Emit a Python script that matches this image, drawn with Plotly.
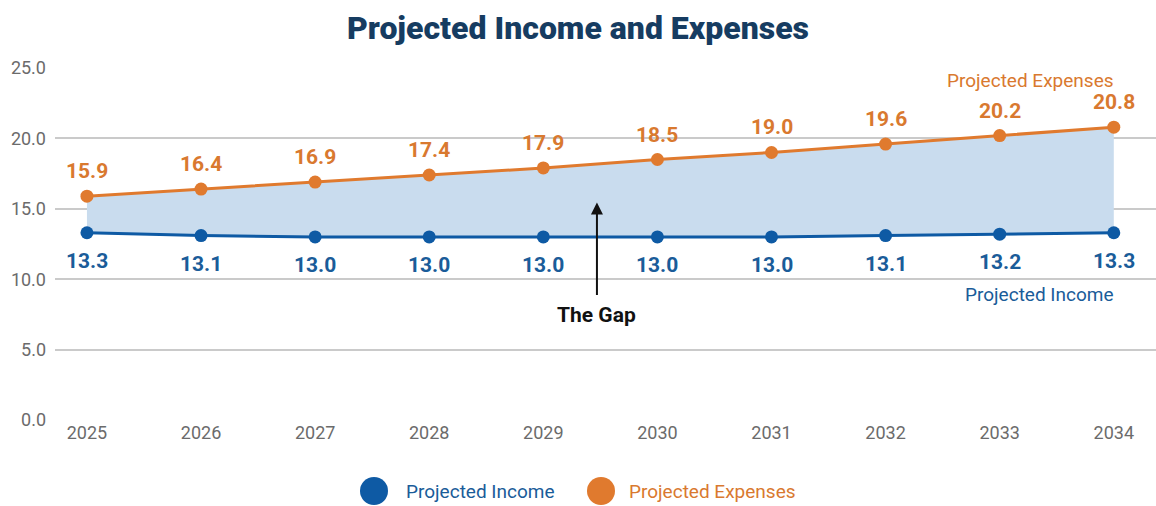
import plotly.graph_objects as go

years = [2025, 2026, 2027, 2028, 2029, 2030, 2031, 2032, 2033, 2034]
income = [13.3, 13.1, 13.0, 13.0, 13.0, 13.0, 13.0, 13.1, 13.2, 13.3]
expenses = [15.9, 16.4, 16.9, 17.4, 17.9, 18.5, 19.0, 19.6, 20.2, 20.8]
y_ticks = [0, 5, 10, 15, 20, 25]

BLUE = "#0e5aa4"
BLUE_TXT = "#1a5c99"
ORANGE = "#e07a2e"
ORANGE_TXT = "#d9792f"
FILL = "#c9dcee"
NAVY = "#163c61"
FONT = "Roboto"

fig = go.Figure()

fig.add_trace(go.Scatter(
    x=years, y=income, mode="lines+markers", name="Projected Income",
    line=dict(color=BLUE, width=3), marker=dict(color=BLUE, size=13),
    showlegend=False, hoverinfo="x+y"))
fig.add_trace(go.Scatter(
    x=years, y=expenses, mode="lines+markers", name="Projected Expenses",
    line=dict(color=ORANGE, width=3), marker=dict(color=ORANGE, size=13),
    fill="tonexty", fillcolor=FILL,
    showlegend=False, hoverinfo="x+y"))

annotations = []
for x, v in zip(years, expenses):
    annotations.append(dict(x=x, y=v, text=f"<b>{v:.1f}</b>", showarrow=False,
                            yshift=25, font=dict(family=FONT, size=21, color=ORANGE_TXT)))
for x, v in zip(years, income):
    annotations.append(dict(x=x, y=v, text=f"<b>{v:.1f}</b>", showarrow=False,
                            yshift=-28, font=dict(family=FONT, size=21, color=BLUE_TXT)))

# series labels
annotations.append(dict(x=2034.02, y=24.1, text="Projected Expenses", showarrow=False,
                        xanchor="right", font=dict(family=FONT, size=19, color=ORANGE_TXT)))
annotations.append(dict(x=2034.02, y=8.9, text="Projected Income", showarrow=False,
                        xanchor="right", font=dict(family=FONT, size=19, color=BLUE_TXT)))
# The Gap
annotations.append(dict(x=2029.47, y=15.45, ax=0, ay=94, text="", showarrow=True,
                        arrowhead=2, arrowsize=1.2, arrowwidth=2, arrowcolor="#111111"))
annotations.append(dict(x=2029.47, y=7.45, text="<b>The Gap</b>", showarrow=False,
                        font=dict(family=FONT, size=21, color="#111111")))

# custom legend
legend_items = [(374, "Projected Income", BLUE, BLUE_TXT, 404),
                (601, "Projected Expenses", ORANGE, ORANGE_TXT, 627)]
shapes = []
W, H = 1156, 506
ML, MR, MT, MB = 55, 0, 68, 86
PW, PH = W - ML - MR, H - MT - MB
for cx, label, col, tcol, tx in legend_items:
    px = (cx - ML) / PW
    py = (H - MB - 491) / PH
    shapes.append(dict(type="circle", xref="paper", yref="paper",
                       xsizemode="pixel", ysizemode="pixel",
                       xanchor=px, yanchor=py, x0=-14, x1=14, y0=-14, y1=14,
                       fillcolor=col, line=dict(width=0)))
    annotations.append(dict(x=(tx - ML) / PW, y=py, xref="paper", yref="paper",
                            text=label, showarrow=False, xanchor="left", yanchor="middle",
                            font=dict(family=FONT, size=19, color=tcol)))

fig.update_layout(
    width=W, height=H,
    margin=dict(l=ML, r=MR, t=MT, b=MB),
    paper_bgcolor="white", plot_bgcolor="white",
    title=dict(text="Projected Income and Expenses", x=0.5, xanchor="center",
               y=1 - 28 / H, yanchor="middle",
               font=dict(family=FONT, size=32, color=NAVY, weight=900)),
    showlegend=False,
    annotations=annotations,
    shapes=shapes,
    font=dict(family=FONT),
)
fig.update_xaxes(range=[2024.72, 2034.37], tickvals=years, ticktext=[str(y) for y in years],
                 showgrid=False, zeroline=False, showline=False, ticks="",
                 tickfont=dict(family=FONT, size=18, color="#6b6b6b"), fixedrange=True)
fig.update_yaxes(range=[0, 25], tickvals=y_ticks, ticktext=[f"{t:.1f}" for t in y_ticks],
                 showgrid=True, gridcolor="#cacaca", gridwidth=1.5, zeroline=False,
                 showline=False, ticks="", ticklabelstandoff=8,
                 tickfont=dict(family=FONT, size=18, color="#6b6b6b"), fixedrange=True)

fig.write_html("out.html")
